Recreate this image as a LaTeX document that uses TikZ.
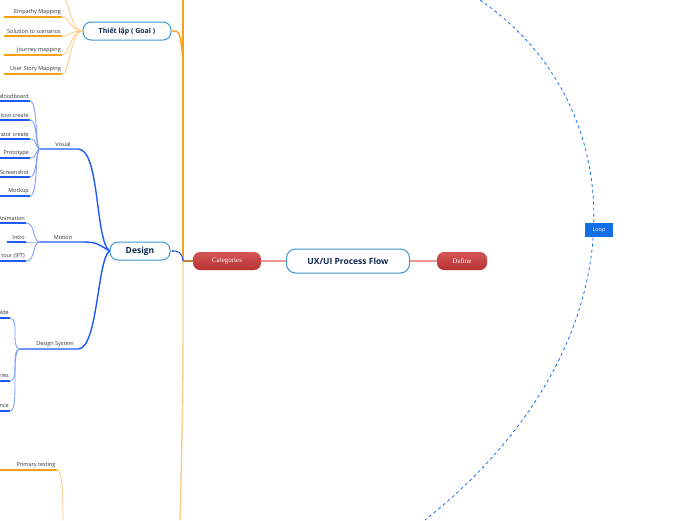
\documentclass[tikz,border=0pt]{standalone}
\usepackage{fontspec}
\setmainfont{Open Sans}
\newfontfamily\serifcat{Liberation Serif}
\usetikzlibrary{arrows.meta}
\definecolor{orA}{RGB}{250,160,20}
\definecolor{orB}{RGB}{252,205,140}
\definecolor{blA}{RGB}{30,90,250}
\definecolor{blB}{RGB}{130,160,250}
\definecolor{redA}{RGB}{205,55,55}
\definecolor{pinkA}{RGB}{245,150,150}
\definecolor{cyanA}{RGB}{60,150,210}
\definecolor{navyA}{RGB}{15,40,80}
\definecolor{brownA}{RGB}{200,130,60}
\definecolor{loopA}{RGB}{20,110,230}
\begin{document}
\begin{tikzpicture}[x=1pt,y=-1pt,
  leaf/.style={font=\fontsize{5.5}{6}\selectfont, text=black!80, inner sep=1pt},
  sub/.style={font=\fontsize{5.5}{6}\selectfont, text=black!80, inner sep=1pt},
  redbox/.style={rounded corners=7pt, top color=redA!85!white, bottom color=redA!90!black, draw=none, text=white, font=\serifcat\fontsize{7}{8}\selectfont, minimum height=18pt},
  mainbox/.style={rounded corners=9pt, draw=cyanA, line width=1pt, fill=white, text=navyA, font=\bfseries\fontsize{8.5}{10}\selectfont, minimum height=24pt},
  catbox/.style={rounded corners=8pt, draw=cyanA, line width=1pt, fill=white, text=navyA, font=\bfseries},
  orl/.style={orA, line width=1.4pt},
  orlt/.style={orB, line width=0.9pt},
  bll/.style={blA, line width=1.4pt},
  bllt/.style={blB, line width=0.9pt}]
\useasboundingbox (0,0) rectangle (696,520);
\begin{scope}
\clip (0,0) rectangle (696,520);
% loop arc
\draw[loopA, dashed, line width=0.8pt] (480,0) .. controls (640,110) and (640,350) .. (425,520);
\node[fill=loopA, text=white, font=\fontsize{5.5}{6}\selectfont, minimum width=28pt, minimum height=14pt, inner sep=1pt] (loop) at (599,230) {Loop};
% trunk
\coordinate (tt) at (183,0);
\coordinate (tm) at (183,261);
\coordinate (tb) at (180,520);
\draw[orA, line width=1.4pt] (tt) -- (tm);
\draw[orB, line width=1.4pt] (tm) .. controls (183,400) .. (tb);
% main nodes
\node[mainbox, minimum width=123pt] (main) at (348,261) {UX/UI Process Flow};
\node[redbox, minimum width=68pt] (cat) at (227,261) {Categories};
\node[redbox, minimum width=50pt] (def) at (462,261) {Define};
\draw[pinkA, line width=1.2pt] (cat.east) -- (main.west);
\draw[pinkA, line width=1.2pt] (main.east) -- (def.west);
\draw[brownA, line width=1.4pt] (tm) -- (cat.west);
% goal
\node[catbox, minimum width=88pt, minimum height=18pt, font=\bfseries\fontsize{7}{8}\selectfont] (goal) at (127,31) {Thiết lập ( Goal )};
\draw[orl] (goal.east) .. controls (180,31) .. (183,60);
\foreach \t/\y/\n in {Empathy Mapping/17/g1, Solution to scenarios/36/g2, Journey mapping/55/g3, User Story Mapping/74/g4}{
  \node[leaf, anchor=south east] (\n) at (62,\y-1) {\t};
  \draw[orl] (4,\y) -- (62,\y);
  \draw[orlt] (62,\y) .. controls (70,\y) and (70,31) .. (goal.west);
}
\draw[orlt] (62,-2) .. controls (70,-2) and (70,31) .. (goal.west);
% design
\node[catbox, minimum width=60pt, minimum height=18pt, font=\bfseries\fontsize{8.5}{10}\selectfont] (des) at (140,251) {Design};
\draw[blA, line width=1pt, -{Latex[length=3pt]}] (183,261) .. controls (182,252) and (178,251) .. (des.east);
% visual
\node[sub, anchor=south] (vis) at (63,148) {Visual};
\coordinate (visl) at (40,149);
\coordinate (visr) at (78,149);
\draw[bll] (visl) -- (visr) .. controls (100,149) and (95,240) .. (des.west);
\foreach \t/\y in {Moodboard/101, Icon create/120, Illustrator create/139, Prototype/158, Screenshot/177, Mockup/196}{
  \node[leaf, anchor=south east] at (30,\y-1) {\t};
  \draw[bll] (0,\y) -- (30,\y);
  \draw[bllt] (30,\y) .. controls (38,\y) and (35,149) .. (visl);
}
% motion
\node[sub, anchor=south] (mot) at (63,241) {Motion};
\coordinate (motl) at (40,242);
\coordinate (motr) at (78,242);
\draw[bll] (motl) -- (motr) .. controls (95,242) .. (des.west);
\foreach \t/\y/\xs in {Animation/223/0, Intro/242/7, Product tour (IPT)/261/0}{
  \node[leaf, anchor=south east] at (26,\y-1) {\t};
  \draw[bll] (\xs,\y) -- (26,\y);
  \draw[bllt] (26,\y) .. controls (36,\y) and (32,242) .. (motl);
}
% design system
\node[sub, anchor=south] (ds) at (55,348) {Design System};
\coordinate (dsl) at (20,349);
\coordinate (dsr) at (78,349);
\draw[bll] (dsl) -- (dsr) .. controls (98,349) and (97,260) .. (des.west);
\foreach \t/\y in {Style guide/318, Component libraries/381, Design guidance/411}{
  \node[leaf, anchor=south east] at (10,\y-1) {\t};
  \draw[bll] (0,\y) -- (10,\y);
  \draw[bllt] (10,\y) .. controls (20,\y) and (10,349) .. (dsl);
}
% testing
\node[sub, anchor=south] (pt) at (36,469) {Primary testing};
\draw[orl] (0,470) -- (57,470);
\draw[orlt] (57,470) .. controls (62,470) and (63,490) .. (63,520);
\end{scope}
\end{tikzpicture}
\end{document}
